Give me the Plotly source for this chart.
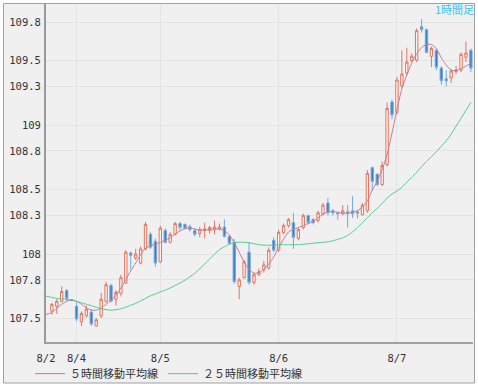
import plotly.graph_objects as go

# ---- data (1-hour candles) ----
opens = [107.557, 107.595, 107.634, 107.717, 107.640, 107.595, 107.475, 107.520, 107.550, 107.443,
         107.520, 107.634, 107.756, 107.649, 107.695, 107.775, 108.008, 107.970, 107.930, 108.040,
         108.153, 108.100, 107.940, 108.183, 108.092, 108.153, 108.237, 108.230, 108.214, 108.183,
         108.160, 108.183, 108.183, 108.187, 108.195, 108.210, 108.137, 108.092, 107.748, 107.817,
         108.015, 107.780, 107.840, 107.878, 107.893, 108.107, 108.030, 108.168, 108.220, 108.244,
         108.122, 108.206, 108.300, 108.267, 108.260, 108.313, 108.397, 108.336, 108.320, 108.313,
         108.328, 108.336, 108.328, 108.305, 108.336, 108.670, 108.620, 108.540, 108.695, 109.180,
         109.100, 109.305, 109.405, 109.500, 109.504, 109.763, 109.740, 109.534, 109.580, 109.443,
         109.360, 109.366, 109.416, 109.427, 109.527, 109.580]
highs = [107.620, 107.650, 107.750, 107.730, 107.650, 107.626, 107.555, 107.600, 107.573, 107.504,
         107.700, 107.786, 107.771, 107.720, 107.840, 108.030, 108.020, 108.040, 108.060, 108.250,
         108.170, 108.120, 108.220, 108.200, 108.170, 108.250, 108.250, 108.237, 108.230, 108.200,
         108.210, 108.244, 108.220, 108.260, 108.237, 108.270, 108.145, 108.117, 107.817, 107.954,
         108.092, 107.855, 107.890, 107.947, 108.053, 108.130, 108.190, 108.237, 108.280, 108.320,
         108.206, 108.313, 108.305, 108.280, 108.336, 108.397, 108.435, 108.350, 108.328, 108.380,
         108.380, 108.450, 108.343, 108.397, 108.650, 108.680, 108.626, 108.718, 109.176, 109.200,
         109.374, 109.580, 109.600, 109.557, 109.750, 109.824, 109.750, 109.610, 109.595, 109.458,
         109.427, 109.435, 109.458, 109.565, 109.650, 109.595]
lows = [107.530, 107.535, 107.625, 107.634, 107.635, 107.480, 107.440, 107.510, 107.443, 107.435,
        107.504, 107.620, 107.626, 107.600, 107.670, 107.770, 107.880, 107.954, 107.920, 108.030,
        108.040, 107.900, 107.930, 108.084, 108.084, 108.145, 108.183, 108.190, 108.175, 108.137,
        108.130, 108.122, 108.160, 108.153, 108.183, 108.130, 108.076, 107.770, 107.650, 107.810,
        107.763, 107.763, 107.832, 107.855, 107.878, 108.015, 108.015, 108.153, 108.206, 108.040,
        108.107, 108.190, 108.230, 108.230, 108.244, 108.300, 108.300, 108.300, 108.267, 108.300,
        108.206, 108.280, 108.275, 108.300, 108.320, 108.490, 108.527, 108.527, 108.680, 109.046,
        109.080, 109.290, 109.390, 109.490, 109.490, 109.718, 109.557, 109.450, 109.427, 109.313,
        109.300, 109.328, 109.397, 109.412, 109.490, 109.412]
closes = [107.610, 107.634, 107.710, 107.656, 107.645, 107.496, 107.540, 107.573, 107.458, 107.490,
          107.650, 107.763, 107.634, 107.702, 107.817, 108.015, 107.990, 108.000, 108.040, 108.230,
          108.053, 107.930, 108.200, 108.090, 108.153, 108.237, 108.206, 108.200, 108.190, 108.153,
          108.190, 108.195, 108.206, 108.210, 108.210, 108.137, 108.084, 107.786, 107.800, 107.940,
          107.780, 107.840, 107.863, 107.916, 108.030, 108.030, 108.168, 108.220, 108.267, 108.130,
          108.190, 108.300, 108.244, 108.244, 108.320, 108.380, 108.320, 108.320, 108.313, 108.336,
          108.313, 108.313, 108.317, 108.380, 108.626, 108.565, 108.540, 108.687, 109.130, 109.080,
          109.350, 109.397, 109.490, 109.535, 109.733, 109.740, 109.565, 109.595, 109.450, 109.344,
          109.344, 109.420, 109.427, 109.550, 109.560, 109.443]

# moving averages as drawn (first two values belong to bars before the visible range)
ma5 = [107.527, 107.534,
       107.546, 107.580, 107.611, 107.634, 107.645, 107.634, 107.611, 107.584, 107.565, 107.565,
       107.580, 107.611, 107.641, 107.679, 107.737, 107.802, 107.870, 107.931, 107.996, 108.046,
       108.065, 108.076, 108.092, 108.107, 108.126, 108.156, 108.179, 108.198, 108.202, 108.195,
       108.187, 108.187, 108.191, 108.195, 108.195, 108.183, 108.149, 108.088, 108.015, 107.939,
       107.882, 107.851, 107.855, 107.882, 107.924, 107.977, 108.050, 108.115, 108.172, 108.191,
       108.206, 108.221, 108.237, 108.252, 108.282, 108.309, 108.328, 108.332, 108.324, 108.317,
       108.317, 108.324, 108.336, 108.366, 108.412, 108.496, 108.565, 108.656, 108.771, 108.939,
       109.122, 109.282, 109.389, 109.481, 109.553, 109.603, 109.626, 109.626, 109.595, 109.523,
       109.466, 109.427, 109.424, 109.439, 109.458, 109.481]
ma25 = [107.676, 107.672,
        107.664, 107.656, 107.653, 107.649, 107.641, 107.634, 107.622, 107.611, 107.600, 107.588,
        107.576, 107.569, 107.565, 107.569, 107.576, 107.588, 107.603, 107.618, 107.637, 107.656,
        107.676, 107.691, 107.706, 107.721, 107.737, 107.756, 107.775, 107.798, 107.824, 107.851,
        107.885, 107.924, 107.962, 108.000, 108.034, 108.057, 108.076, 108.088, 108.092, 108.092,
        108.088, 108.080, 108.073, 108.069, 108.069, 108.069, 108.073, 108.073, 108.073, 108.073,
        108.073, 108.076, 108.080, 108.084, 108.088, 108.092, 108.095, 108.103, 108.115, 108.126,
        108.145, 108.172, 108.206, 108.244, 108.282, 108.321, 108.355, 108.393, 108.435, 108.466,
        108.489, 108.519, 108.557, 108.595, 108.634, 108.679, 108.718, 108.756, 108.794, 108.836,
        108.878, 108.931, 108.992, 109.053, 109.115, 109.176]

date_labels = ["8/2", "8/4", "8/5", "8/6", "8/7"]
date_bar_index = [-1.19, 5, 22, 46, 70]
price_ticks = [107.5, 107.8, 108.0, 108.3, 108.5, 108.8, 109.0, 109.3, 109.5, 109.8]
price_labels = ["107.5", "107.8", "108", "108.3", "108.5", "108.8", "109", "109.3", "109.5", "109.8"]
ma5_name = "５時間移動平均線"
ma25_name = "２５時間移動平均線"
period_label = "1時間足"

bar_x = list(range(len(opens)))
ma_x = list(range(-2, len(opens)))

W, H = 478, 392
ML, MR, MT, MB = 46, 5, 4, 46
pw, ph = W - ML - MR, H - MT - MB

def px(xpix):
    return (xpix - ML) / pw

def py(ypix):
    return (H - MB - ypix) / ph

fig = go.Figure()
fig.add_trace(go.Candlestick(
    x=bar_x, open=opens, high=highs, low=lows, close=closes,
    increasing=dict(line=dict(color="#e0775e", width=1), fillcolor="#fff4f0"),
    decreasing=dict(line=dict(color="#74a9dc", width=1), fillcolor="#3a7dc0"),
    whiskerwidth=0, showlegend=False, hoverinfo="skip",
))
fig.add_trace(go.Scatter(
    x=ma_x, y=ma5, mode="lines", name=ma5_name,
    line=dict(color="#c47a9e", width=1, shape="spline", smoothing=0.5),
))
fig.add_trace(go.Scatter(
    x=ma_x, y=ma25, mode="lines", name=ma25_name,
    line=dict(color="#4fcb8e", width=1, shape="spline", smoothing=0.5),
))

mono = "DejaVu Sans Mono"
cjk = "Noto Sans CJK JP"

fig.update_layout(
    width=W, height=H,
    margin=dict(l=ML, r=MR, t=MT, b=MB, pad=0),
    paper_bgcolor="#ffffff",
    plot_bgcolor="#ffffff",
    boxgap=0.32,
    showlegend=True,
    legend=dict(
        orientation="h", x=px(30), y=py(378), xanchor="left", yanchor="middle",
        font=dict(family=cjk, size=11, color="#333333"),
        bgcolor="rgba(0,0,0,0)", itemwidth=30, tracegroupgap=0,
    ),
    xaxis=dict(
        range=[-1.19, 85.43], rangeslider=dict(visible=False),
        tickmode="array", tickvals=date_bar_index, ticktext=date_labels,
        showgrid=True, gridcolor="#e4e4e4", gridwidth=1,
        showline=True, linecolor="#a0a0a0", linewidth=2,
        ticks="", ticklabelstandoff=5,
        tickfont=dict(family=mono, size=10.5, color="#333333"),
        zeroline=False, fixedrange=True,
    ),
    yaxis=dict(
        range=[107.318, 109.94],
        tickmode="array", tickvals=price_ticks, ticktext=price_labels,
        showgrid=True, gridcolor="#e4e4e4", gridwidth=1,
        showline=True, linecolor="#9a9a9a", linewidth=2,
        ticks="", ticklabelstandoff=1,
        tickfont=dict(family=mono, size=10.5, color="#333333"),
        zeroline=False, fixedrange=True,
    ),
    shapes=[dict(
        type="rect", xref="paper", yref="paper",
        x0=px(3.5), x1=px(474.5), y0=py(387.5), y1=py(3.5),
        fillcolor="#f0f0f0", line=dict(color="#a0a0a0", width=1), layer="below",
    )],
    annotations=[dict(
        text=period_label, xref="paper", yref="paper",
        x=px(476), y=py(9), xanchor="right", yanchor="middle", showarrow=False,
        font=dict(family=cjk, size=11, color="#3cc3ee"),
    )],
)

fig.write_html("out.html", config={"displayModeBar": False, "staticPlot": True},
               post_script="document.body.style.margin='0';document.body.style.overflow='hidden';")
